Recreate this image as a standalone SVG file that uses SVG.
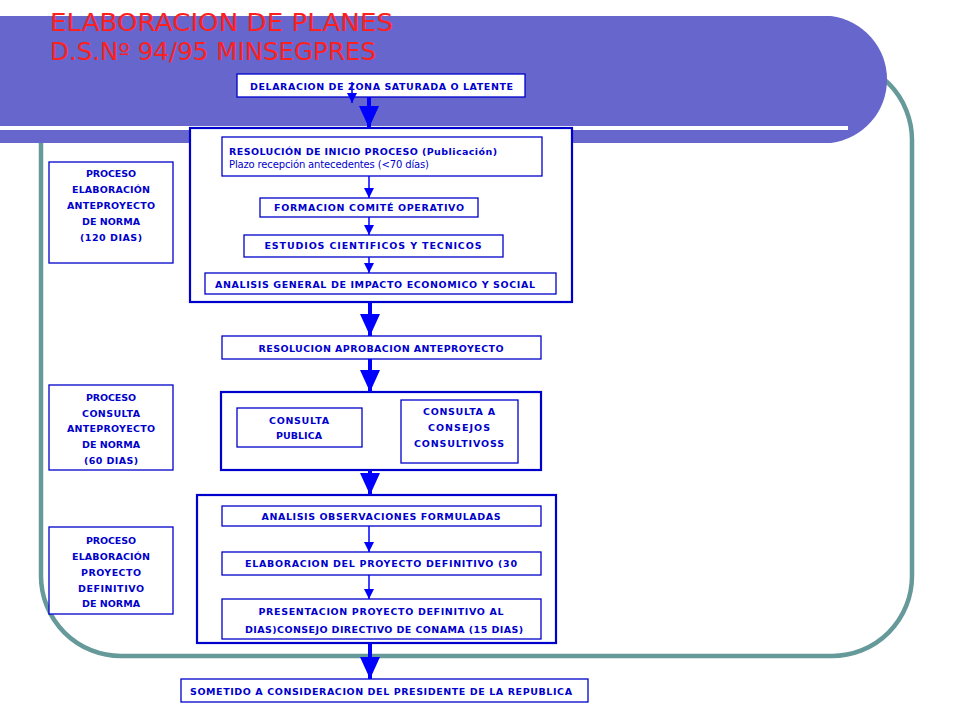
<svg xmlns="http://www.w3.org/2000/svg" width="960" height="720" viewBox="0 0 960 720">
<defs>
<style>
.bx{fill:#fff;stroke:#0000CC;stroke-width:1.3}
.big{fill:#fff;stroke:#0000CC;stroke-width:2.2}
.t{font-family:"DejaVu Sans","Liberation Sans",Arial,sans-serif;font-weight:bold;font-size:9.5px;fill:#0000CC}
.tc{text-anchor:middle}
.n{font-family:"DejaVu Sans","Liberation Sans",Arial,sans-serif;font-size:10px;fill:#0000CC}
.title{font-family:"DejaVu Sans","Liberation Sans",Arial,sans-serif;font-size:24px;fill:#FF2020}
.ab{stroke:#0000FF;stroke-width:4;fill:none}
.as{stroke:#0000FF;stroke-width:1.5;fill:none}
</style>
<marker id="hb" viewBox="0 0 22 20" refX="22" refY="10" markerWidth="22" markerHeight="20" markerUnits="userSpaceOnUse" orient="auto">
<path d="M0,0 L22,10 L0,20 z" fill="#0000FF"/>
</marker>
<marker id="hs" viewBox="0 0 10 10" refX="10" refY="5" markerWidth="10" markerHeight="10" markerUnits="userSpaceOnUse" orient="auto">
<path d="M0,0 L10,5 L0,10 z" fill="#0000FF"/>
</marker>
</defs>
<rect width="960" height="720" fill="#fff"/>
<g id="frame">
<rect x="41" y="60" width="871" height="596" rx="80" ry="80" fill="none" stroke="#669999" stroke-width="4.5"/>
</g>
<g id="band">
<path d="M0,16 L831,16 A64,64 0 0 1 831,143 L0,143 z" fill="#6666CC"/>
<rect x="0" y="126" width="848" height="4" fill="#fff"/>
<text class="title" x="50" y="31" textLength="343" lengthAdjust="spacingAndGlyphs">ELABORACION DE PLANES</text>
<text class="title" x="50" y="60" textLength="326" lengthAdjust="spacingAndGlyphs">D.S.Nº 94/95 MINSEGPRES</text>
</g>
<g id="n-declaracion">
<rect class="bx" x="237" y="74" width="288" height="23"/>
<text class="t" x="250" y="90" textLength="263" lengthAdjust="spacing">DELARACION DE ZONA SATURADA O LATENTE</text>
</g>
<g id="n-grupo1">
<rect class="big" x="190" y="128" width="382" height="174"/>
</g>
<g id="n-resolucion-inicio">
<rect class="bx" x="222" y="137" width="320" height="39"/>
<text class="t" x="229" y="155" textLength="268" lengthAdjust="spacing">RESOLUCIÓN DE INICIO PROCESO  (Publicación)</text>
<text class="n" x="229" y="168" textLength="200" lengthAdjust="spacing">Plazo recepción antecedentes (&lt;70 días)</text>
</g>
<g id="n-formacion">
<rect class="bx" x="260" y="198" width="218" height="19"/>
<text class="t tc" x="369" y="211" textLength="190" lengthAdjust="spacing">FORMACION COMITÉ OPERATIVO</text>
</g>
<g id="n-estudios">
<rect class="bx" x="244" y="235" width="259" height="22"/>
<text class="t tc" x="373" y="249" textLength="217" lengthAdjust="spacing">ESTUDIOS CIENTIFICOS Y TECNICOS</text>
</g>
<g id="n-analisis-general">
<rect class="bx" x="205" y="273" width="351" height="21"/>
<text class="t tc" x="375" y="288" textLength="320" lengthAdjust="spacing">ANALISIS GENERAL DE IMPACTO ECONOMICO Y SOCIAL</text>
</g>
<g id="n-resolucion-aprobacion">
<rect class="bx" x="222" y="336" width="319" height="23"/>
<text class="t tc" x="381" y="352" textLength="245" lengthAdjust="spacing">RESOLUCION APROBACION ANTEPROYECTO</text>
</g>
<g id="n-grupo2">
<rect class="big" x="221" y="392" width="320" height="78"/>
</g>
<g id="n-consulta-publica">
<rect class="bx" x="237" y="408" width="125" height="39"/>
<text class="t tc" x="299" y="424" textLength="60" lengthAdjust="spacing">CONSULTA</text>
<text class="t tc" x="299" y="439" textLength="46" lengthAdjust="spacing">PUBLICA</text>
</g>
<g id="n-consulta-consejos">
<rect class="bx" x="401" y="400" width="117" height="63"/>
<text class="t tc" x="459" y="415" textLength="72" lengthAdjust="spacing">CONSULTA A</text>
<text class="t tc" x="459" y="431" textLength="62" lengthAdjust="spacing">CONSEJOS</text>
<text class="t tc" x="459" y="447" textLength="90" lengthAdjust="spacing">CONSULTIVOSS</text>
</g>
<g id="n-grupo3">
<rect class="big" x="197" y="495" width="359" height="148"/>
</g>
<g id="n-analisis-obs">
<rect class="bx" x="222" y="506" width="319" height="20"/>
<text class="t tc" x="381" y="520" textLength="239" lengthAdjust="spacing">ANALISIS OBSERVACIONES FORMULADAS</text>
</g>
<g id="n-elaboracion-def">
<rect class="bx" x="222" y="552" width="319" height="23"/>
<text class="t" x="245" y="567" textLength="272" lengthAdjust="spacing">ELABORACION DEL PROYECTO DEFINITIVO  (30</text>
</g>
<g id="n-presentacion">
<rect class="bx" x="222" y="599" width="319" height="40"/>
<text class="t tc" x="381" y="615" textLength="245" lengthAdjust="spacing">PRESENTACION PROYECTO DEFINITIVO AL</text>
<text class="t tc" x="384" y="633" textLength="278" lengthAdjust="spacing">DIAS)CONSEJO DIRECTIVO DE CONAMA (15 DIAS)</text>
</g>
<g id="n-sometido">
<rect class="bx" x="181" y="679" width="407" height="23"/>
<text class="t tc" x="381" y="695" textLength="382" lengthAdjust="spacing">SOMETIDO A CONSIDERACION DEL PRESIDENTE DE LA REPUBLICA</text>
</g>
<g id="n-proceso1">
<rect class="bx" x="49" y="162" width="124" height="101"/>
<text class="t tc" x="111" y="177" textLength="50" lengthAdjust="spacing">PROCESO</text>
<text class="t tc" x="111" y="193" textLength="78" lengthAdjust="spacing">ELABORACIÓN</text>
<text class="t tc" x="111" y="209" textLength="88" lengthAdjust="spacing">ANTEPROYECTO</text>
<text class="t tc" x="111" y="225" textLength="58" lengthAdjust="spacing">DE NORMA</text>
<text class="t tc" x="111" y="241" textLength="62" lengthAdjust="spacing">(120 DIAS)</text>
</g>
<g id="n-proceso2">
<rect class="bx" x="49" y="385" width="124" height="85"/>
<text class="t tc" x="111" y="401" textLength="50" lengthAdjust="spacing">PROCESO</text>
<text class="t tc" x="111" y="417" textLength="58" lengthAdjust="spacing">CONSULTA</text>
<text class="t tc" x="111" y="432" textLength="88" lengthAdjust="spacing">ANTEPROYECTO</text>
<text class="t tc" x="111" y="448" textLength="58" lengthAdjust="spacing">DE NORMA</text>
<text class="t tc" x="111" y="464" textLength="54" lengthAdjust="spacing">(60 DIAS)</text>
</g>
<g id="n-proceso3">
<rect class="bx" x="49" y="527" width="124" height="87"/>
<text class="t tc" x="111" y="544" textLength="50" lengthAdjust="spacing">PROCESO</text>
<text class="t tc" x="111" y="560" textLength="78" lengthAdjust="spacing">ELABORACIÓN</text>
<text class="t tc" x="111" y="576" textLength="60" lengthAdjust="spacing">PROYECTO</text>
<text class="t tc" x="111" y="592" textLength="66" lengthAdjust="spacing">DEFINITIVO</text>
<text class="t tc" x="111" y="607" textLength="58" lengthAdjust="spacing">DE NORMA</text>
</g>
<g id="connectors">
<line class="as" x1="352" y1="82" x2="352" y2="103" marker-end="url(#hs)"/>
<line class="ab" x1="369" y1="97" x2="369" y2="128" marker-end="url(#hb)"/>
<line class="as" x1="369" y1="176" x2="369" y2="198" marker-end="url(#hs)"/>
<line class="as" x1="369" y1="217" x2="369" y2="235" marker-end="url(#hs)"/>
<line class="as" x1="369" y1="257" x2="369" y2="273" marker-end="url(#hs)"/>
<line class="ab" x1="370" y1="302" x2="370" y2="336" marker-end="url(#hb)"/>
<line class="ab" x1="370" y1="359" x2="370" y2="392" marker-end="url(#hb)"/>
<line class="ab" x1="370" y1="470" x2="370" y2="495" marker-end="url(#hb)"/>
<line class="as" x1="369" y1="526" x2="369" y2="552" marker-end="url(#hs)"/>
<line class="as" x1="369" y1="575" x2="369" y2="599" marker-end="url(#hs)"/>
<line class="ab" x1="370" y1="643" x2="370" y2="679" marker-end="url(#hb)"/>
</g>
</svg>
